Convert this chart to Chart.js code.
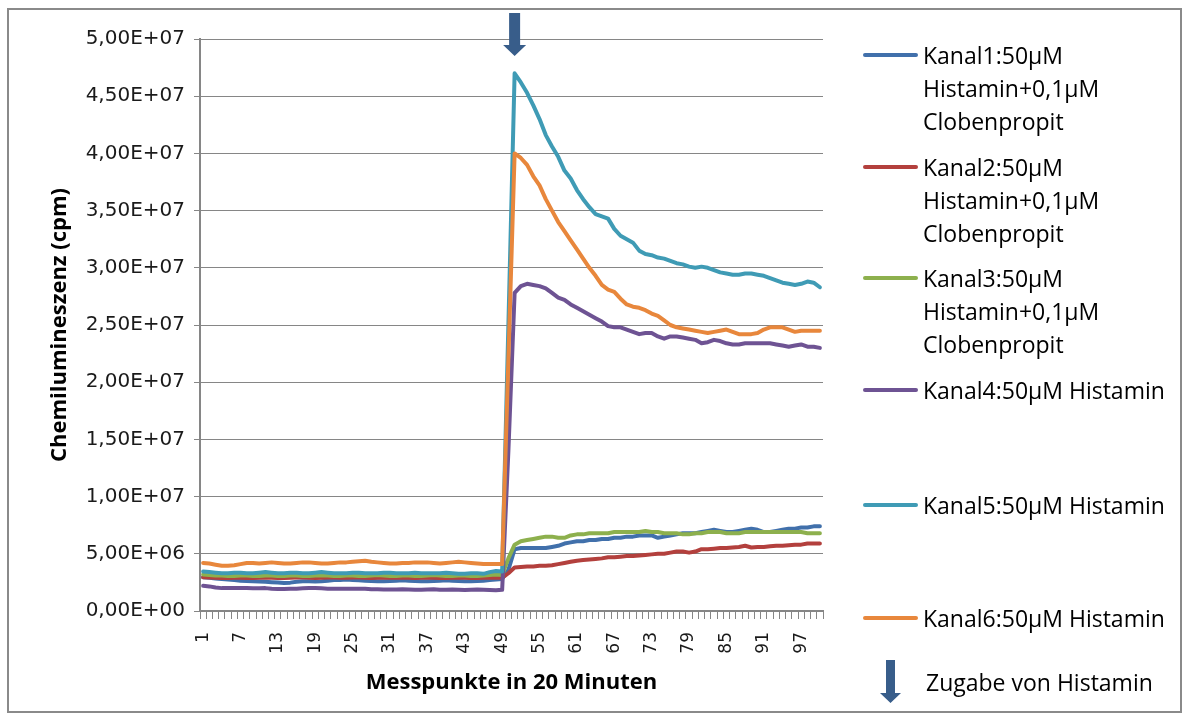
<!DOCTYPE html>
<html>
<head>
<meta charset="utf-8">
<title>Chemilumineszenz</title>
<script src="https://cdn.jsdelivr.net/npm/chart.js@4.4.1/dist/chart.umd.min.js"></script>
<style>
  html, body { margin: 0; padding: 0; background: #fff; }
  #wrap { position: relative; width: 1191px; height: 722px; overflow: hidden; }
  #frame { position: absolute; left: 7px; top: 8px; width: 1175px; height: 705px; border: 2px solid #8a8a8a; box-sizing: border-box; pointer-events: none; }
  canvas { position: absolute; left: 0; top: 0; }
  .leg { position: absolute; left: 863px; font-family: "Open Sans", sans-serif; font-size: 23px; line-height: 33px; color: #000; white-space: nowrap; }
  .leg .sw { position: absolute; left: 0; top: 14.5px; width: 55px; height: 4px; border-radius: 2px; }
  .leg .tx { position: absolute; left: 60px; top: 0; }
</style>
</head>
<body>
<div id="wrap">
  <canvas id="chart" width="1191" height="722"></canvas>
  <div id="legend"></div>
  <div id="frame"></div>
</div>
<script>
// values in millions of cpm, one entry per Messpunkt (1..100)
var kanal1 = [2.95,2.9,2.85,2.8,2.75,2.7,2.65,2.62,2.6,2.58, 2.55,2.52,2.5,2.45,2.48,2.55,2.6,2.6,2.58,2.6,
  2.65,2.7,2.72,2.75,2.72,2.68,2.65,2.62,2.6,2.6, 2.62,2.65,2.68,2.65,2.62,2.6,2.6,2.62,2.65,2.68,
  2.65,2.62,2.6,2.6,2.62,2.65,2.7,2.75,2.8, 3.6,
  5.4,5.5,5.5,5.5,5.5,5.5,5.6,5.7,5.9,6.0, 6.1,6.1,6.2,6.2,6.3,6.3,6.4,6.4,6.5,6.5,
  6.6,6.6,6.6,6.4,6.5,6.6,6.7,6.8,6.8,6.8, 6.9,7.0,7.1,7.0,6.9,6.9,7.0,7.1,7.2,7.1,
  6.9,6.9,7.0,7.1,7.2,7.2,7.3,7.3,7.4,7.4];
var kanal2 = [2.95,2.92,2.9,2.88,2.88,2.9,2.9,2.88,2.88,2.9, 2.92,2.9,2.88,2.88,2.9,2.92,2.92,2.9,2.88,2.9,
  2.92,2.92,2.9,2.9,2.92,2.92,2.9,2.88,2.9,2.92, 2.9,2.9,2.92,2.9,2.88,2.9,2.92,2.9,2.88,2.88,
  2.9,2.92,2.9,2.88,2.88,2.9,2.92,2.9,2.9, 3.3,
  3.8,3.85,3.9,3.9,3.95,3.95,4.0,4.1,4.2,4.3, 4.4,4.45,4.5,4.55,4.6,4.7,4.7,4.75,4.8,4.8,
  4.85,4.9,4.95,5.0,5.0,5.1,5.2,5.2,5.1,5.2, 5.4,5.4,5.45,5.5,5.5,5.55,5.6,5.7,5.55,5.6,
  5.6,5.65,5.7,5.7,5.75,5.8,5.8,5.9,5.9,5.9];
var kanal3 = [3.2,3.15,3.1,3.1,3.05,3.05,3.1,3.1,3.05,3.05, 3.1,3.1,3.05,3.05,3.1,3.1,3.05,3.05,3.1,3.1,
  3.1,3.05,3.05,3.1,3.1,3.05,3.05,3.1,3.15,3.1, 3.05,3.05,3.1,3.1,3.05,3.05,3.1,3.15,3.1,3.05,
  3.05,3.1,3.1,3.05,3.05,3.1,3.15,3.2,3.15, 4.6,
  5.8,6.1,6.2,6.3,6.4,6.5,6.5,6.4,6.4,6.6, 6.7,6.7,6.8,6.8,6.8,6.8,6.9,6.9,6.9,6.9,
  6.9,7.0,6.9,6.9,6.8,6.8,6.8,6.7,6.7,6.8, 6.8,6.9,6.9,6.9,6.8,6.8,6.8,6.9,6.9,6.9,
  6.9,6.9,6.9,6.9,6.9,6.9,6.9,6.8,6.8,6.8];
var kanal4 = [2.2,2.15,2.05,2.0,2.0,2.0,2.0,2.0,1.98,1.98, 2.0,1.95,1.92,1.92,1.95,1.95,1.98,2.0,2.0,1.98,
  1.95,1.95,1.95,1.95,1.95,1.95,1.95,1.9,1.9,1.88, 1.88,1.88,1.9,1.88,1.85,1.85,1.88,1.9,1.85,1.85,
  1.88,1.85,1.83,1.85,1.88,1.85,1.83,1.82,1.85, 14.0,
  27.8,28.4,28.6,28.5,28.4,28.2,27.8,27.4,27.2,26.8, 26.5,26.2,25.9,25.6,25.3,24.9,24.8,24.8,24.6,24.4,
  24.2,24.3,24.3,24.0,23.8,24.0,24.0,23.9,23.8,23.7, 23.4,23.5,23.7,23.6,23.4,23.3,23.3,23.4,23.4,23.4,
  23.4,23.4,23.3,23.2,23.1,23.2,23.3,23.1,23.1,23.0];
var kanal5 = [3.45,3.4,3.35,3.3,3.3,3.35,3.35,3.3,3.3,3.35, 3.4,3.35,3.3,3.3,3.35,3.35,3.3,3.3,3.35,3.4,
  3.35,3.3,3.3,3.3,3.35,3.35,3.3,3.3,3.3,3.35, 3.35,3.3,3.3,3.3,3.35,3.3,3.3,3.3,3.3,3.35,
  3.3,3.25,3.25,3.3,3.3,3.25,3.4,3.5,3.45, 25.0,
  47.0,46.2,45.3,44.2,43.0,41.6,40.6,39.7,38.5,37.8, 36.8,36.0,35.3,34.7,34.5,34.3,33.4,32.8,32.5,32.2,
  31.5,31.2,31.1,30.9,30.8,30.6,30.4,30.3,30.1,30.0, 30.1,30.0,29.8,29.6,29.5,29.4,29.4,29.5,29.5,29.4,
  29.3,29.1,28.9,28.7,28.6,28.5,28.6,28.8,28.7,28.3];
var kanal6 = [4.2,4.15,4.05,3.95,3.95,4.0,4.1,4.2,4.2,4.15, 4.2,4.25,4.2,4.15,4.15,4.2,4.25,4.25,4.2,4.15,
  4.15,4.2,4.25,4.25,4.3,4.35,4.4,4.3,4.25,4.2, 4.15,4.15,4.2,4.2,4.25,4.25,4.25,4.2,4.15,4.2,
  4.25,4.3,4.25,4.2,4.15,4.1,4.1,4.1,4.1, 22.0,
  40.0,39.6,39.0,38.0,37.2,36.0,35.0,34.0,33.2,32.4, 31.6,30.8,30.0,29.3,28.5,28.1,27.9,27.3,26.8,26.6,
  26.5,26.3,26.0,25.8,25.4,25.0,24.8,24.7,24.6,24.5, 24.4,24.3,24.4,24.5,24.6,24.4,24.2,24.2,24.2,24.3,
  24.6,24.8,24.8,24.8,24.6,24.4,24.5,24.5,24.5,24.5];

var seriesNames = [
  ['Kanal1:50µM', 'Histamin+0,1µM', 'Clobenpropit'],
  ['Kanal2:50µM', 'Histamin+0,1µM', 'Clobenpropit'],
  ['Kanal3:50µM', 'Histamin+0,1µM', 'Clobenpropit'],
  ['Kanal4:50µM Histamin'],
  ['Kanal5:50µM Histamin'],
  ['Kanal6:50µM Histamin']
];
var seriesColors = ['#4170ab', '#b3403d', '#8db04d', '#6e5393', '#3f9bb5', '#e8873c'];
var seriesData = [kanal1, kanal2, kanal3, kanal4, kanal5, kanal6];

var yMin = 0, yMax = 5e7, yStep = 5e6;
var MIO = 1e6;
var labelEvery = 6;          // every 6th Messpunkt gets a label
var zugabeIndex = 50;        // Messpunkt 51: addition of histamine
var legendY = [55, 167, 278, 390, 505, 618];   // centre of first text line per entry

var categories = kanal1.map(function (v, i) { return String(i + 1); });

function excelSci(v) {
  if (v === 0) return '0,00E+00';
  var e = Math.floor(Math.log10(v) + 1e-9);
  var m = v / Math.pow(10, e);
  var es = (e < 10 ? '0' : '') + e;
  return m.toFixed(2).replace('.', ',') + 'E+' + es;
}

var datasets = seriesData.map(function (arr, i) {
  return {
    label: seriesNames[i].join(' '),
    data: arr.map(function (v) { return v * MIO; }),
    borderColor: seriesColors[i],
    backgroundColor: seriesColors[i],
    borderWidth: 4,
    pointRadius: 0,
    tension: 0,
    borderJoinStyle: 'round',
    borderCapStyle: 'round',
    order: seriesData.length - 1 - i
  };
});

// down arrow marking the histamine addition
var arrowPlugin = {
  id: 'zugabeArrow',
  afterDraw: function (chart) {
    var ctx = chart.ctx;
    var x = chart.scales.x.getPixelForValue(zugabeIndex);
    ctx.save();
    ctx.fillStyle = '#385d8a';
    ctx.beginPath();
    ctx.moveTo(x - 5.5, 13);
    ctx.lineTo(x + 5.5, 13);
    ctx.lineTo(x + 5.5, 45);
    ctx.lineTo(x + 11.5, 45);
    ctx.lineTo(x, 56);
    ctx.lineTo(x - 11.5, 45);
    ctx.lineTo(x - 5.5, 45);
    ctx.closePath();
    ctx.fill();
    ctx.restore();
  }
};

var gridGray = '#868686';

new Chart(document.getElementById('chart'), {
  type: 'line',
  data: { labels: categories, datasets: datasets },
  plugins: [arrowPlugin],
  options: {
    responsive: false,
    animation: false,
    layout: { padding: { left: 0, right: 368, top: 39, bottom: 0 } },
    plugins: { legend: { display: false }, tooltip: { enabled: false } },
    scales: {
      x: {
        type: 'category',
        offset: true,
        afterFit: function (s) { s.height = 111; },
        grid: { offset: true, drawOnChartArea: false, drawTicks: true, tickLength: 8, color: gridGray, lineWidth: 1 },
        border: { display: true, color: gridGray, width: 2 },
        ticks: {
          autoSkip: false, maxRotation: 90, minRotation: 90, padding: 13,
          color: '#1a1a1a',
          font: { family: 'DejaVu Sans', size: 17 },
          callback: function (val, idx) { return idx % labelEvery === 0 ? categories[idx] : ''; }
        },
        title: {
          display: true, text: 'Messpunkte in 20 Minuten', color: '#000',
          font: { family: 'Open Sans', size: 22, weight: 'bold' },
          padding: { top: 0, bottom: 26 }
        }
      },
      y: {
        min: yMin, max: yMax,
        afterFit: function (s) { s.width = 200; },
        grid: { color: gridGray, lineWidth: 1, drawTicks: true, tickLength: 6 },
        border: { display: true, color: gridGray, width: 2 },
        ticks: {
          stepSize: yStep, padding: 9, color: '#1a1a1a',
          font: { family: 'DejaVu Sans', size: 20 },
          callback: function (v) { return excelSci(v); }
        },
        title: {
          display: true, text: 'Chemilumineszenz (cpm)', color: '#000',
          font: { family: 'Open Sans', size: 22, weight: 'bold' },
          padding: { top: 47, bottom: 0 }
        }
      }
    }
  }
});

// legend laid out like the original (fixed slots on the right)
var legend = document.getElementById('legend');
seriesNames.forEach(function (lines, i) {
  var item = document.createElement('div');
  item.className = 'leg';
  item.style.top = (legendY[i] - 16.5) + 'px';
  var sw = document.createElement('div');
  sw.className = 'sw';
  sw.style.background = seriesColors[i];
  var tx = document.createElement('div');
  tx.className = 'tx';
  tx.innerHTML = lines.join('<br>');
  item.appendChild(sw);
  item.appendChild(tx);
  legend.appendChild(item);
});
var zug = document.createElement('div');
zug.className = 'leg';
zug.style.top = (682 - 16.5) + 'px';
zug.innerHTML = '<svg width="24" height="46" style="position:absolute;left:16px;top:-6px">' +
  '<polygon points="7,0 16,0 16,33 22,33 11.5,43 1,33 7,33" fill="#385d8a"/></svg>' +
  '<div class="tx" style="left:63px">Zugabe von Histamin</div>';
legend.appendChild(zug);
</script>
</body>
</html>
